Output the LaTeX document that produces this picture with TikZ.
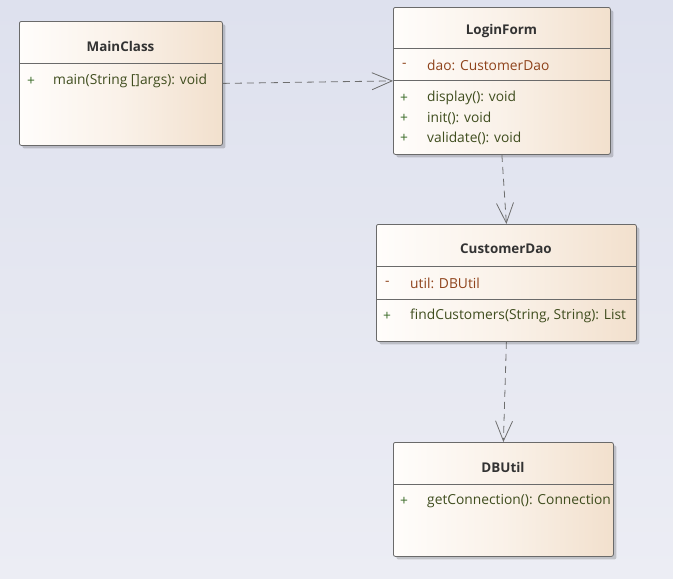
\documentclass[tikz,border=0pt]{standalone}
\usepackage{fontspec}
\setmainfont{Open Sans}
\usetikzlibrary{arrows.meta}
\usetikzlibrary{positioning}
\usetikzlibrary{shadows}

\definecolor{bgtop}{HTML}{DEE1EE}
\definecolor{bgbottom}{HTML}{ECEDF4}
\definecolor{boxleft}{HTML}{FFFDFB}
\definecolor{boxright}{HTML}{F2E0CD}
\definecolor{boxline}{HTML}{6A6A6A}
\definecolor{titlecol}{HTML}{333333}
\definecolor{attrcol}{HTML}{8E421A}
\definecolor{methcol}{HTML}{3F4D1E}
\definecolor{pluscol}{HTML}{3A6B28}
\definecolor{arrowcol}{HTML}{6E6E6E}

\tikzset{
  umlbox/.style={draw=boxline, line width=0.8pt, rounded corners=2pt, anchor=north west,
    inner sep=0pt, left color=boxleft, right color=boxright, middle color=boxleft!60!boxright,
    drop shadow={shadow xshift=3pt, shadow yshift=-3pt, fill=black, opacity=0.18}},
  classname/.style={font=\bfseries\fontsize{13.4}{15}\selectfont, text=titlecol},
  member/.style={anchor=west, inner sep=0pt, font=\fontsize{13.8}{15}\selectfont},
  attr/.style={member, text=attrcol},
  meth/.style={member, text=methcol},
  vis/.style={member, text=pluscol},
  divline/.style={draw=boxline, line width=0.8pt},
  dep/.style={draw=arrowcol, line width=0.8pt, dash pattern=on 7pt off 5pt,
    -{Straight Barb[length=20pt,width=17pt,line width=0.8pt]}},
}

\begin{document}
\begin{tikzpicture}[x=1pt,y=-1pt]
  \shade[top color=bgtop, bottom color=bgbottom] (0,0) rectangle (673,579);
  \useasboundingbox (0,0) rectangle (673,579);

  % class boxes
  \node[umlbox, minimum width=203pt, minimum height=124pt] (mainclass) at (19,21) {};
  \node[umlbox, minimum width=217pt, minimum height=147pt] (loginform) at (393,7) {};
  \node[umlbox, minimum width=260pt, minimum height=117pt] (customerdao) at (376,224) {};
  \node[umlbox, minimum width=220pt, minimum height=114pt] (dbutil) at (393,442) {};

  % MainClass
  \node[classname] (mainclassname) at (120.5,46) {MainClass};
  \draw[divline] (19,63) -- (222,63);
  \node[vis] at (27,81) {+};
  \node[meth] at (53,81) {main(String []args): void};

  % LoginForm
  \node[classname] (loginformname) at (501.5,31) {LoginForm};
  \draw[divline] (393,48) -- (610,48);
  \node[attr] at (402,65) {-};
  \node[attr] at (427,65) {dao: CustomerDao};
  \draw[divline] (393,80) -- (610,80);
  \node[vis] at (400,98) {+};
  \node[meth] at (427,98) {display(): void};
  \node[vis] at (400,118) {+};
  \node[meth] at (427,118) {init(): void};
  \node[vis] at (400,138) {+};
  \node[meth] at (427,138) {validate(): void};

  % CustomerDao
  \node[classname] (customerdaoname) at (506,249) {CustomerDao};
  \draw[divline] (376,266) -- (636,266);
  \node[attr] at (385,283) {-};
  \node[attr] at (410,283) {util: DBUtil};
  \draw[divline] (376,299) -- (636,299);
  \node[vis] at (383,316) {+};
  \node[meth] at (410,316) {findCustomers(String, String): List};

  % DBUtil
  \node[classname] (dbutilname) at (503,467) {DBUtil};
  \draw[divline] (393,484) -- (613,484);
  \node[vis] at (400,501) {+};
  \node[meth] at (427,501) {getConnection(): Connection};

  % dependencies
  \draw[dep] (mainclass.east) -- (loginform.west);
  \draw[dep] (loginform.south) -- (customerdao.north);
  \draw[dep] (customerdao.south) -- (dbutil.north);
\end{tikzpicture}
\end{document}
